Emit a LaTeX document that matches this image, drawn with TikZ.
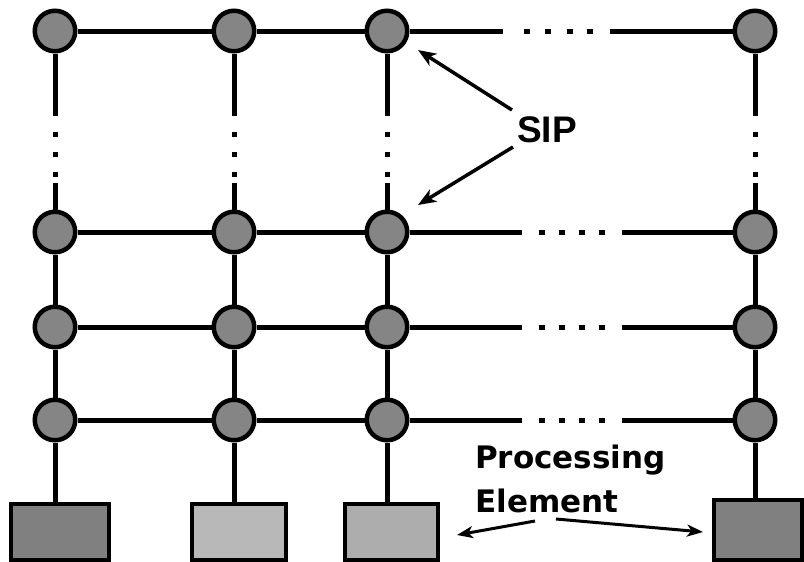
\documentclass[tikz,border=0pt]{standalone}
\usepackage{fontspec}
\newfontfamily\sipfont{Liberation Sans}
\newfontfamily\pefont{DejaVu Sans}
\usetikzlibrary{arrows.meta}
\tikzset{
  sip/.style={circle,draw=black,line width=4.5pt,fill=black!48,minimum size=40.5pt,inner sep=0pt},
  pebox/.style={rectangle,draw=black,line width=4pt,inner sep=0pt},
  link/.style={line width=5pt},
  rowgap/.style={line width=5pt,dash pattern=on 112pt off 17pt on 6pt off 14pt on 6pt off 14pt on 6pt off 14pt on 6pt off 17pt on 300pt},
  topgap/.style={line width=5pt,dash pattern=on 93pt off 21pt on 6pt off 15pt on 6pt off 16pt on 6pt off 14pt on 6pt off 17pt on 300pt},
  colgap/.style={line width=5pt,dash pattern=on 62pt off 16pt on 5pt off 15pt on 5pt off 15pt on 5pt off 6pt on 200pt},
  ptr/.style={line width=3.5pt,-{Stealth[length=18pt,width=14pt,inset=5pt]}},
  peptr/.style={line width=3pt,-{Stealth[length=16pt,width=12pt,inset=4.5pt]}},
  lbl/.style={inner sep=0pt,anchor=base west}
}
\begin{document}
\begin{tikzpicture}[x=1pt,y=-1pt]
\useasboundingbox[fill=white] (0,0) rectangle (804,562);
% circles
\foreach \r/\y in {1/31,2/232,3/327,4/420}{
  \node[sip] (c\r1) at (55,\y) {};
  \node[sip] (c\r2) at (234,\y) {};
  \node[sip] (c\r3) at (387,\y) {};
  \node[sip] (c\r4) at (755,\y) {};
}
% boxes
\node[pebox,fill=black!50,minimum width=98pt,minimum height=56pt] (b1) at (60,532) {};
\node[pebox,fill=black!28,minimum width=94pt,minimum height=56pt] (b2) at (239,532) {};
\node[pebox,fill=black!32,minimum width=93pt,minimum height=56pt] (b3) at (391.5,532) {};
\node[pebox,fill=black!50,minimum width=88pt,minimum height=60pt] (b4) at (758,530) {};
% horizontal links
\foreach \r in {1,2,3,4}{
  \draw[link] (c\r1) -- (c\r2);
  \draw[link] (c\r2) -- (c\r3);
}
\draw[topgap] (c13.east) -- (c14.west);
\foreach \r in {2,3,4}{
  \draw[rowgap] (c\r3.east) -- (c\r4.west);
}
% vertical links
\foreach \c in {1,2,3,4}{
  \draw[colgap] (c1\c.south) -- (c2\c.north);
  \draw[link] (c2\c) -- (c3\c);
  \draw[link] (c3\c) -- (c4\c);
}
\draw[link] (c41.south) -- (c41.south |- b1.north);
\draw[link] (c42.south) -- (c42.south |- b2.north);
\draw[link] (c43.south) -- (c43.south |- b3.north);
\draw[link] (c44.south) -- (c44.south |- b4.north);
% labels
\node[lbl,font={\sipfont\bfseries\fontsize{37}{40}\selectfont}] (sip) at (517,142) {SIP};
\node[lbl,font={\pefont\bfseries\fontsize{31}{34}\selectfont}] (proc) at (475,468) {Processing};
\node[lbl,font={\pefont\bfseries\fontsize{31}{34}\selectfont}] (elem) at (475,512) {Element};
% pointers
\coordinate (s1) at (512,110);
\coordinate (s2) at (513,147);
\coordinate (t1) at (418,50);
\coordinate (t2) at (418,205);
\draw[ptr] (s1) -- (t1);
\draw[ptr] (s2) -- (t2);
\coordinate (e1) at (535,521);
\coordinate (e2) at (556,519);
\coordinate (u1) at (457,535);
\coordinate (u2) at (703,532);
\draw[peptr] (e1) -- (u1);
\draw[peptr] (e2) -- (u2);
\end{tikzpicture}
\end{document}
